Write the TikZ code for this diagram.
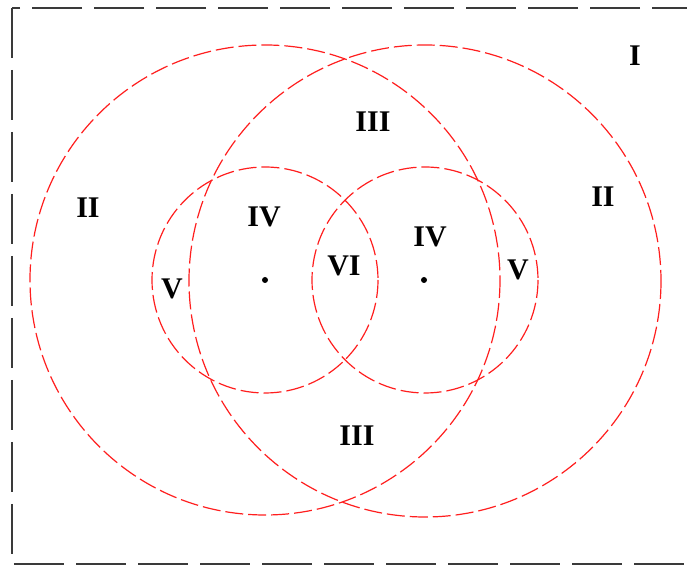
\documentclass[tikz,border=0pt]{standalone}
\usepackage{fontspec}
\setmainfont{Liberation Serif}
\usepackage{tikz}
\usetikzlibrary{positioning}
\definecolor{ringred}{HTML}{FF1E1E}
\definecolor{framegrey}{HTML}{3A3A3A}
\tikzset{
  ring/.style={draw=ringred, line width=0.6pt, dash pattern=on 9pt off 2.5pt},
  frame/.style={draw=framegrey, line width=1.2pt, dash pattern=on 25pt off 6pt},
  zone/.style={font=\bfseries\fontsize{15}{18}\selectfont, inner sep=1pt},
  ctr/.style={circle, fill=black, inner sep=0pt, minimum size=3pt},
}

\begin{document}
\begin{tikzpicture}[x=0.5pt,y=-0.5pt]
  \useasboundingbox (0,0) rectangle (687,565);

  % outer frame
  \begin{scope}
    \clip (0,0) rectangle (687,565);
    \draw[frame] (12,8) rectangle (700,564);
  \end{scope}

  % large and small circles
  \draw[ring] (265,280) circle[radius=235];
  \draw[ring] (425,281) circle[radius=236];
  \draw[ring] (265,280) circle[radius=113];
  \draw[ring] (425,280) circle[radius=113];

  % centres
  \node[ctr] (cl) at (265,280) {};
  \node[ctr] (cr) at (424,280) {};

  % regions
  \node[zone] (r1)  at (635,56)  {I};
  \node[zone] (r2a) at (88,208)  {II};
  \node[zone] (r2b) at (603,197) {II};
  \node[zone] (r3a) at (373,122) {III};
  \node[zone] (r3b) at (357,436) {III};
  \node[zone] (r4a) at (264,217) {IV};
  \node[zone] (r4b) at (430,237) {IV};
  \node[zone] (r5a) at (172,289) {V};
  \node[zone] (r5b) at (518,270) {V};
  \node[zone] (r6)  at (344,266) {VI};
\end{tikzpicture}
\end{document}
